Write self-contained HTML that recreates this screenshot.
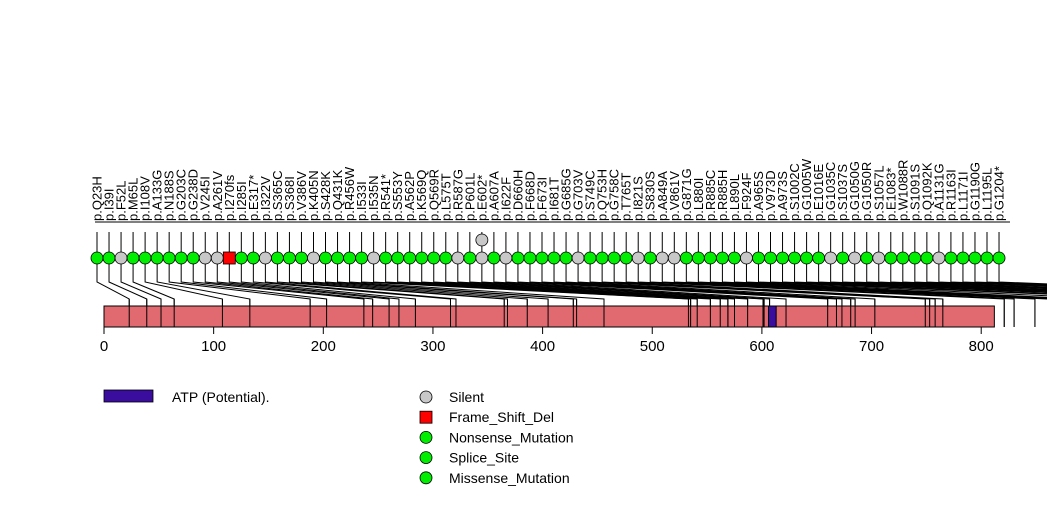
<!DOCTYPE html>
<html><head><meta charset="utf-8"><style>
body{margin:0;background:#fff;}
svg{display:block;font-family:"Liberation Sans",Arial,sans-serif;}
</style></head><body>
<svg id="chart" width="1047" height="524" viewBox="0 0 1047 524"></svg>
<script>
const labels=["p.Q23H","p.I39I","p.F52L","p.M65L","p.I108V","p.A133G","p.N188S","p.G203C","p.G238D","p.V245I","p.A261V","p.I270fs","p.I285I","p.E317*","p.I322V","p.S365C","p.S368I","p.V386V","p.K405N","p.S428K","p.Q431K","p.R456W","p.I533I","p.I535N","p.R541*","p.S553Y","p.A562P","p.K569Q","p.Q569R","p.L575T","p.R587G","p.P601L","p.E602*","p.A607A","p.I622F","p.D660H","p.F668D","p.F673I","p.I681T","p.G685G","p.G703V","p.S749C","p.Q753H","p.G758C","p.T765T","p.I821S","p.S830S","p.A849A","p.V861V","p.G871G","p.L880I","p.R885C","p.R885H","p.L890L","p.F924F","p.A965S","p.V973D","p.A973S","p.S1002C","p.G1005W","p.E1016E","p.G1035C","p.S1037S","p.G1050G","p.G1050R","p.S1057L","p.E1083*","p.W1088R","p.S1091S","p.Q1092K","p.A1131G","p.R1163I","p.L1171I","p.G1190G","p.L1195L","p.G1204*"];
const positions=[23,39,52,64,108,133,188,203,237,245,260,269,284,316,321,365,368,386,405,428,431,456,533,535,541,553,562,569,569,575,587,601,602,607,622,660,668,673,681,685,703,749,753,758,765,821,830,849,861,871,880,885,885,890,924,965,973,973,1002,1005,1016,1035,1037,1050,1050,1057,1083,1088,1091,1092,1131,1163,1171,1190,1195,1204];
const types=["g","g","s","g","g","g","g","g","g","s","s","f","g","g","s","g","g","g","s","g","g","g","g","s","g","g","g","g","g","g","s","g","s","g","s","g","g","g","g","g","s","g","g","g","g","s","g","s","s","g","g","g","g","g","s","g","g","g","g","g","g","s","g","s","g","s","g","g","g","g","s","g","g","g","g","g"];
const extraSilentIndex=[32];
const axisTicks=[0,100,200,300,400,500,600,700,800];
const proteinLength=812;
const domainStart=606, domainEnd=613;

const svg=document.getElementById('chart');
const NS="http://www.w3.org/2000/svg";
function mk(tag,attrs,parent){const e=document.createElementNS(NS,tag);for(const k in attrs)e.setAttribute(k,attrs[k]);(parent||svg).appendChild(e);return e;}
const xAA=a=>104+a*1.0965;
const xIdx=i=>97+i*12.027;
const colors={g:"#00ee00",s:"#c8c8c8",f:"#ff0000"};

// header line
const hl=mk('line',{x1:95,y1:222,x2:1010,y2:222,stroke:"#000","stroke-width":1});



// connectors
for(let i=0;i<labels.length;i++){
  const cx=xIdx(i), px=xAA(positions[i]);
  const p=mk('polyline',{points:`${cx},264 ${cx},282 ${px},299 ${px},327`,fill:"none",stroke:"#000","stroke-width":1});
  
  
}
// protein bar
const bar=mk('rect',{x:xAA(0),y:306,width:xAA(proteinLength)-xAA(0),height:21,fill:"#e06a70",stroke:"#000","stroke-width":1});


for(let i=0;i<positions.length;i++){
  const px=xAA(positions[i]);
  const l=mk('line',{x1:px,y1:299,x2:px,y2:327,stroke:"#000","stroke-width":1});
  
  
}
const dom=mk('rect',{x:xAA(domainStart),y:306,width:xAA(domainEnd)-xAA(domainStart),height:21,fill:"#3a0d9e",stroke:"#000","stroke-width":1});



// axis
for(const t of axisTicks){
  const x=xAA(t);
  const tl=mk('line',{x1:x,y1:327,x2:x,y2:334,stroke:"#000"});
  
  
  const tx=mk('text',{x:x,y:351,"font-size":15,"text-anchor":"middle"});
  tx.textContent=t;
  
  
}

// stems, circles, labels
for(let i=0;i<labels.length;i++){
  const cx=xIdx(i);
  const st=mk('line',{x1:cx,y1:232,x2:cx,y2:258,stroke:"#000"});
  
  
  const t=types[i];
  let m;
  if(t==='f') m=mk('rect',{x:cx-6,y:252,width:12,height:12,fill:colors.f,stroke:"#000","stroke-width":0.8});
  else m=mk('circle',{cx:cx,cy:258,r:6,fill:colors[t],stroke:"#000","stroke-width":0.8});
  
  
  const lb=mk('text',{x:0,y:0,"font-size":13,transform:`translate(${cx+4.5},221) rotate(-90)`});
  lb.textContent=labels[i];
  
  
}
for(const i of extraSilentIndex){
  const c=mk('circle',{cx:xIdx(i),cy:240,r:6,fill:colors.s,stroke:"#000","stroke-width":0.8});
  
  
}

// legend
const lr=mk('rect',{x:104,y:390,width:49,height:12,fill:"#3a0d9e",stroke:"#000","stroke-width":0.8});


const lt=mk('text',{x:172,y:402,"font-size":14});
lt.textContent="ATP (Potential).";


const legNames=["Silent","Frame_Shift_Del","Nonsense_Mutation","Splice_Site","Missense_Mutation"];
const legTypes=["s","f","g","g","g"];
for(let k=0;k<legNames.length;k++){
  const y=397+k*20.2;
  let m;
  if(legTypes[k]==='f') m=mk('rect',{x:420,y:y-6,width:12,height:12,fill:colors.f,stroke:"#000","stroke-width":0.8});
  else m=mk('circle',{cx:426,cy:y,r:6,fill:colors[legTypes[k]],stroke:"#000","stroke-width":0.8});
  
  
  const tx=mk('text',{x:449,y:y+5,"font-size":14});
  tx.textContent=legNames[k];
  
  
}
</script>
</body></html>
